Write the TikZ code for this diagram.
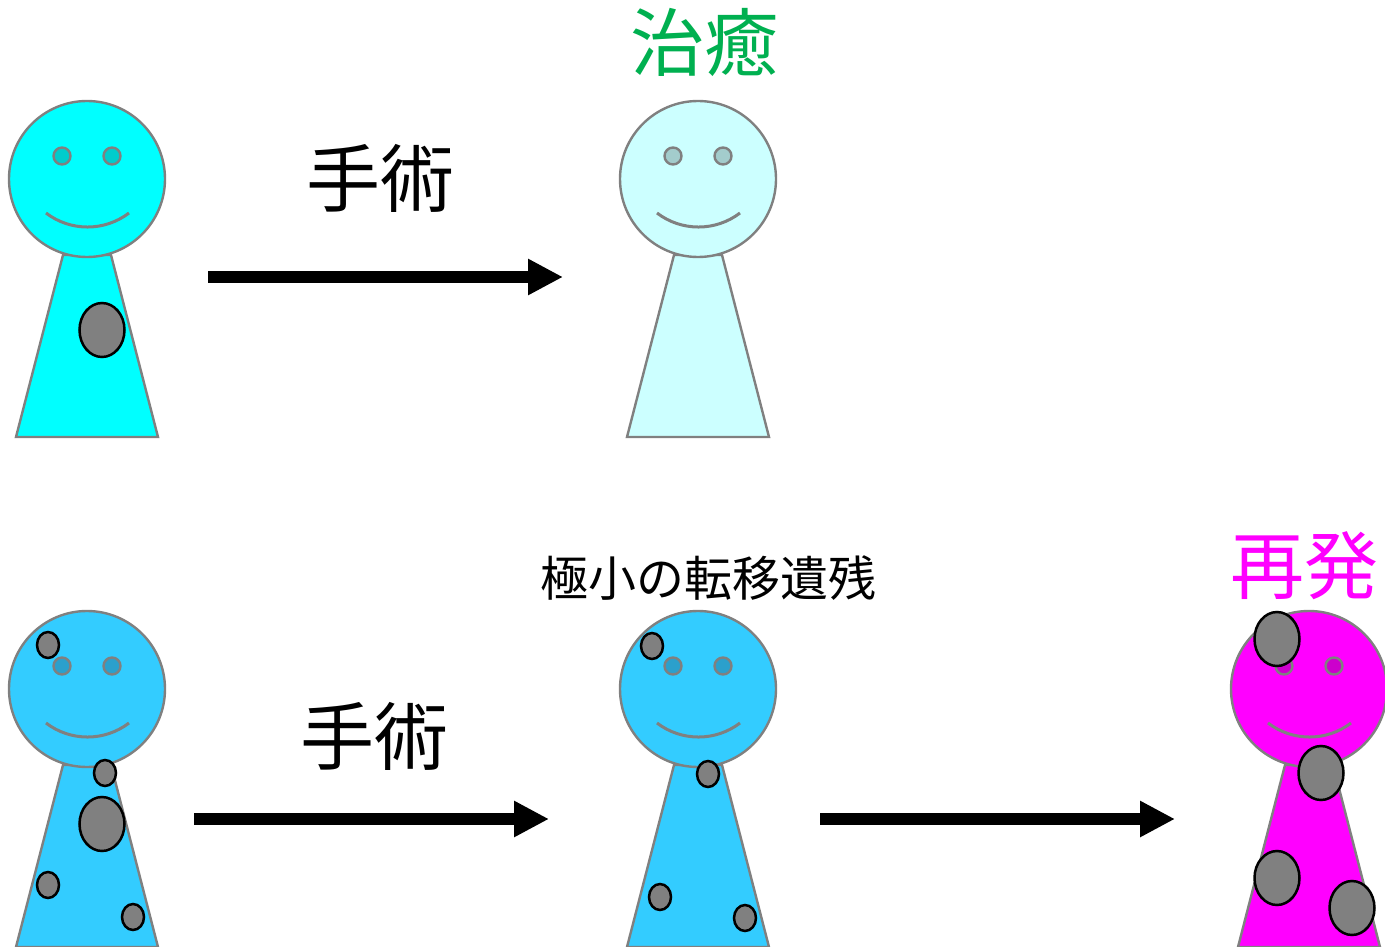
\documentclass[tikz,border=0pt]{standalone}
\usepackage{fontspec}
\usetikzlibrary{arrows.meta}
\newfontfamily\jpfont{Noto Sans CJK JP}

\definecolor{outline}{HTML}{808080}
\definecolor{cyanbody}{HTML}{00FFFF}
\definecolor{cyaneye}{HTML}{00CCCC}
\definecolor{palebody}{HTML}{CCFFFF}
\definecolor{paleeye}{HTML}{A3CCCC}
\definecolor{bluebody}{HTML}{33CCFF}
\definecolor{blueeye}{HTML}{2BA0CC}
\definecolor{magbody}{HTML}{FF00FF}
\definecolor{mageye}{HTML}{CC00CC}
\definecolor{curegreen}{HTML}{00B050}
\definecolor{tumourgray}{HTML}{808080}

\tikzset{
  skin/.style={draw=outline, line width=2.4pt},
  mouth/.style={draw=outline, line width=3pt},
  tumour/.style={draw=black, line width=2.5pt, fill=tumourgray},
  flow/.style={line width=12pt, -{Triangle[length=35pt,width=34pt]}},
  jlabel/.style={font=\jpfont\fontsize{74}{74}\selectfont, inner sep=0pt},
  smalllabel/.style={font=\jpfont\fontsize{48}{48}\selectfont, inner sep=0pt},
}

% person figure: #1 = shift, #2 = body colour, #3 = eye colour
\newcommand\drawperson[3]{%
  \begin{scope}[shift={#1}]
    \fill[#2, skin] (63,255) -- (111,255) -- (158,437) -- (16,437) -- cycle;
    \fill[#2, skin] (87,179) circle (78pt);
    \fill[#3, skin] (62,156) circle (8.5pt);
    \fill[#3, skin] (112,156) circle (8.5pt);
    \draw[mouth] (46,213) .. controls (70.5,231.7) and (104.5,231.7) .. (129,213);
  \end{scope}}

\begin{document}
\begin{tikzpicture}[x=1pt, y=-1pt]
  \useasboundingbox (0,0) rectangle (1385,947);
  \clip (0,0) rectangle (1385,947);

  % top row: surgery leads to cure
  \drawperson{(0,0)}{cyanbody}{cyaneye}
  \draw[tumour] (102,330) ellipse [x radius=22.5pt, y radius=27pt];
  \drawperson{(611,0)}{palebody}{paleeye}

  \coordinate (a1s) at (208,277);
  \coordinate (a1e) at (563,277);
  \draw[flow] (a1s) -- (a1e);
  \node[jlabel] (op1) at (380,178) {手術};
  \node[jlabel, text=curegreen] (cure) at (704,42) {治癒};

  % bottom row: residual micro-metastases lead to recurrence
  \drawperson{(0,510)}{bluebody}{blueeye}
  \draw[tumour] (48,645) ellipse [x radius=11pt, y radius=13pt];
  \draw[tumour] (105,773) ellipse [x radius=11pt, y radius=13pt];
  \draw[tumour] (102,824) ellipse [x radius=22.5pt, y radius=27pt];
  \draw[tumour] (48,885) ellipse [x radius=11pt, y radius=13pt];
  \draw[tumour] (133,917) ellipse [x radius=11pt, y radius=13pt];

  \drawperson{(611,510)}{bluebody}{blueeye}
  \draw[tumour] (652,646) ellipse [x radius=11pt, y radius=13pt];
  \draw[tumour] (708,774) ellipse [x radius=11pt, y radius=13pt];
  \draw[tumour] (660,897) ellipse [x radius=11pt, y radius=13pt];
  \draw[tumour] (745,918) ellipse [x radius=11pt, y radius=13pt];

  \drawperson{(1222,510)}{magbody}{mageye}
  \draw[tumour] (1277,639) ellipse [x radius=22.5pt, y radius=27pt];
  \draw[tumour] (1321,773) ellipse [x radius=22.5pt, y radius=27pt];
  \draw[tumour] (1277,878) ellipse [x radius=22.5pt, y radius=27pt];
  \draw[tumour] (1352,908) ellipse [x radius=22.5pt, y radius=27pt];

  \coordinate (a2s) at (194,819);
  \coordinate (a2e) at (549,819);
  \coordinate (a3s) at (820,819);
  \coordinate (a3e) at (1175,819);
  \draw[flow] (a2s) -- (a2e);
  \draw[flow] (a3s) -- (a3e);

  \node[jlabel] (op2) at (374,736) {手術};
  \node[smalllabel] (resid) at (708,578) {極小の転移遺残};
  \node[jlabel, text=magbody] (relapse) at (1304,566) {再発};
\end{tikzpicture}
\end{document}
